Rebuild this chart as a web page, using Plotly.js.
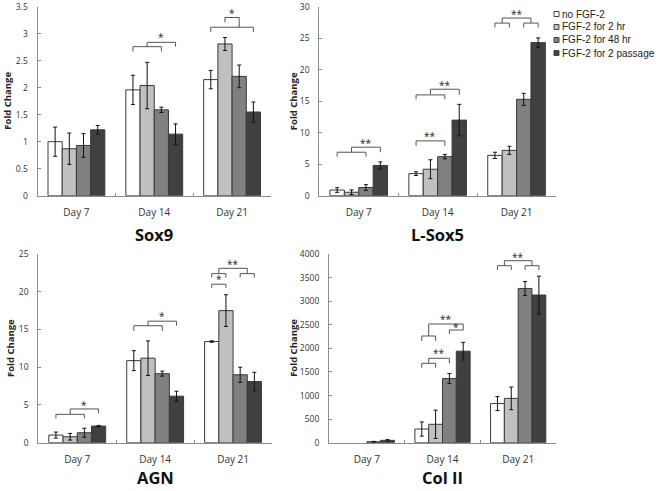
<!DOCTYPE html>
<html><head><meta charset="utf-8">
<script src="https://cdn.plot.ly/plotly-3.0.1.min.js"></script>
<style>html,body{margin:0;padding:0;background:#fff}#chart{width:661px;height:491px}</style>
</head><body><div id="chart"></div>
<script>
const days = ['Day 7', 'Day 14', 'Day 21'];
const seriesNames = ['no FGF-2', 'FGF-2 for 2 hr', 'FGF-2 for 48 hr', 'FGF-2 for 2 passage'];
const seriesColors = ['#ffffff', '#c0c0c0', '#808080', '#404040'];
const panelTitles = ['Sox9', 'L-Sox5', 'AGN', 'Col II'];

// mean values: one row per series, one column per day
const sox9Mean = [[1.0, 1.96, 2.15], [0.87, 2.04, 2.81], [0.93, 1.59, 2.21], [1.22, 1.14, 1.55]];
const sox9Err  = [[0.27, 0.27, 0.17], [0.29, 0.43, 0.12], [0.22, 0.05, 0.21], [0.08, 0.19, 0.185]];
const lsox5Mean = [[0.9, 3.5, 6.4], [0.55, 4.2, 7.2], [1.3, 6.2, 15.3], [4.8, 12.0, 24.3]];
const lsox5Err  = [[0.37, 0.3, 0.5], [0.37, 1.5, 0.64], [0.45, 0.35, 0.96], [0.56, 2.5, 0.74]];
const agnMean = [[1.01, 10.87, 13.4], [0.79, 11.2, 17.5], [1.32, 9.15, 9.0], [2.2, 6.16, 8.1]];
const agnErr  = [[0.4, 1.32, 0.1], [0.44, 2.29, 2.1], [0.6, 0.33, 1.0], [0.09, 0.66, 1.23]];
const col2Mean = [[null, 290, 830], [null, 390, 940], [20, 1360, 3270], [50, 1940, 3130]];
const col2Err  = [[0, 150, 148], [0, 300, 240], [8, 106, 148], [15, 187, 400]];

// significance brackets: [day index, from bar, to bar, top y, left leg end y, right leg end y]
const sox9Brackets = [[1, 0, 2, 2.76, 2.67, 2.67], [1, 1, 3, 2.84, 2.76, 2.76],
                      [2, 0, 3, 3.12, 3.03, 3.03], [2, 1, 2, 3.30, 3.21, 3.12]];
const sox9Stars = [[1, 2, 2.93, '*'], [2, 1.5, 3.38, '*']];
const lsox5Brackets = [[0, 0, 2, 6.9, 6.2, 6.2], [0, 1, 3, 7.7, 6.9, 6.9],
                       [1, 0, 2, 8.7, 7.9, 7.9],
                       [1, 0, 2, 16.0, 15.3, 15.3], [1, 1, 3, 16.9, 16.0, 16.0],
                       [2, 0, 1, 27.4, 26.7, 26.7], [2, 2, 3, 27.4, 26.7, 26.7], [2, 0.5, 2.5, 28.2, 27.4, 27.4]];
const lsox5Stars = [[0, 2, 8.3, '**'], [1, 1, 9.5, '**'], [1, 2, 17.5, '**'], [2, 1.5, 28.8, '**']];
const agnBrackets = [[0, 0, 2, 3.76, 3.23, 3.23], [0, 1, 3, 4.47, 3.76, 3.9],
                     [1, 0, 2, 15.5, 14.8, 14.8], [1, 1, 3, 16.1, 15.5, 15.5],
                     [2, 0, 1, 21.0, 20.5, 20.5],
                     [2, 0, 1, 22.4, 21.9, 21.9], [2, 2, 3, 22.4, 21.9, 21.9], [2, 0.5, 2.5, 23.1, 22.4, 22.4]];
const agnStars = [[0, 2, 5.0, '*'], [1, 2, 16.8, '*'], [2, 0.5, 21.7, '*'], [2, 1.5, 23.7, '**']];
const col2Brackets = [[1, 0, 1, 1683, 1590, 1590], [1, 0.5, 2, 1789, 1683, 1683],
                      [1, 0, 1, 2262, 2156, 2156], [1, 0.5, 3, 2516, 2262, 2389], [1, 2, 3, 2389, 2304, 2389],
                      [2, 0, 1, 3752, 3660, 3660], [2, 2, 3, 3752, 3660, 3660], [2, 0.5, 2.5, 3858, 3752, 3752]];
const col2Stars = [[1, 1.25, 1895, '**'], [1, 2.5, 2460, '*'], [1, 1.75, 2622, '**'], [2, 1.5, 3943, '**']];

const W = 661, H = 491;
const px = x => x / W, py = y => 1 - y / H;
const BARGAP = 0.27;
const slot = (1 - BARGAP) / 4;
const xpos = (c, b) => c + (b - 1.5) * slot;

const panels = [
  {mean: sox9Mean, err: sox9Err, br: sox9Brackets, st: sox9Stars, range: [0, 3.5], dtick: 0.5,
   x0: 37.5, x1: 271, y0: 6.7, y1: 195.7, titleY: 234, titleAnchor: 'middle', fcX: 7.5},
  {mean: lsox5Mean, err: lsox5Err, br: lsox5Brackets, st: lsox5Stars, range: [0, 30], dtick: 5,
   x0: 319.3, x1: 556, y0: 6.7, y1: 195.7, titleY: 234, titleAnchor: 'middle', fcX: 293},
  {mean: agnMean, err: agnErr, br: agnBrackets, st: agnStars, range: [0, 25], dtick: 5,
   x0: 38.3, x1: 272, y0: 254, y1: 442.7, titleY: 490.5, titleAnchor: 'bottom', fcX: 10.7},
  {mean: col2Mean, err: col2Err, br: col2Brackets, st: col2Stars, range: [0, 4000], dtick: 500,
   x0: 329, x1: 556, y0: 254, y1: 442.7, titleY: 490.5, titleAnchor: 'bottom', fcX: 293.5}
];

const FONT = 'Open Sans, DejaVu Sans, sans-serif';
const traces = [], shapes = [], annotations = [];
const layout = {
  width: W, height: H, margin: {l: 0, r: 0, t: 0, b: 0},
  paper_bgcolor: '#fff', plot_bgcolor: '#fff',
  barmode: 'group', bargap: BARGAP, bargroupgap: 0, showlegend: false,
  font: {family: FONT, color: '#333'}
};
const LINE = '#555';

panels.forEach((p, i) => {
  const n = i === 0 ? '' : String(i + 1);
  const xa = 'x' + n, ya = 'y' + n;
  seriesNames.forEach((name, s) => {
    traces.push({
      type: 'bar', name: name, x: days, y: p.mean[s], xaxis: xa, yaxis: ya,
      marker: {color: seriesColors[s], line: {color: '#3a3a3a', width: 1}},
      error_y: {type: 'data', array: p.err[s], visible: true, color: '#111', thickness: 1, width: 2},
      hoverinfo: 'skip'
    });
  });
  layout['xaxis' + n] = {
    domain: [px(p.x0), px(p.x1)], anchor: ya, type: 'category',
    tickson: 'boundaries', ticks: 'inside', ticklen: 3, tickcolor: '#8c8c8c',
    showline: true, linecolor: '#8c8c8c', linewidth: 1, showgrid: false, zeroline: false,
    tickfont: {family: FONT, size: 10, color: '#333'}, ticklabelstandoff: 7, fixedrange: true
  };
  layout['yaxis' + n] = {
    domain: [py(p.y1), py(p.y0)], anchor: xa, range: p.range, dtick: p.dtick,
    ticks: 'inside', ticklen: 3, tickcolor: '#8c8c8c',
    showline: true, linecolor: '#8c8c8c', linewidth: 1, showgrid: false, zeroline: false,
    tickfont: {family: FONT, size: 8.5, color: '#333'}, ticklabelstandoff: 7, fixedrange: true
  };
  p.br.forEach(b => {
    const xA = xpos(b[0], b[1]), xB = xpos(b[0], b[2]);
    const base = {type: 'line', xref: xa, yref: ya, line: {color: LINE, width: 1}};
    shapes.push(Object.assign({}, base, {x0: xA, x1: xA, y0: b[4], y1: b[3]}));
    shapes.push(Object.assign({}, base, {x0: xA, x1: xB, y0: b[3], y1: b[3]}));
    shapes.push(Object.assign({}, base, {x0: xB, x1: xB, y0: b[3], y1: b[5]}));
  });
  p.st.forEach(s => {
    annotations.push({xref: xa, yref: ya, x: xpos(s[0], s[1]), y: s[2], text: s[3], showarrow: false,
      yanchor: 'middle', font: {family: FONT, size: 10, color: '#222'}});
  });
  annotations.push({xref: 'paper', yref: 'paper', x: px((p.x0 + p.x1) / 2), y: py(p.titleY),
    text: '<b>' + panelTitles[i] + '</b>', showarrow: false, xanchor: 'center', yanchor: p.titleAnchor,
    font: {family: FONT, size: 16.5, color: '#111'}});
  annotations.push({xref: 'paper', yref: 'paper', x: px(p.fcX), y: py((p.y0 + p.y1) / 2),
    text: '<b>Fold Change</b>', textangle: -90, showarrow: false, xanchor: 'center', yanchor: 'middle',
    font: {family: FONT, size: 9.5, color: '#222'}});
});

// legend
const LEG_X = 554, LEG_Y0 = 14, LEG_DY = 13, SQ = 5;
seriesNames.forEach((name, s) => {
  const cy = LEG_Y0 + s * LEG_DY;
  shapes.push({type: 'rect', xref: 'paper', yref: 'paper',
    x0: px(LEG_X), x1: px(LEG_X + SQ), y0: py(cy + SQ / 2), y1: py(cy - SQ / 2),
    fillcolor: seriesColors[s], line: {color: '#444', width: 1}});
  annotations.push({xref: 'paper', yref: 'paper', x: px(LEG_X + SQ + 1), y: py(cy), text: name,
    showarrow: false, xanchor: 'left', yanchor: 'middle',
    font: {family: 'Liberation Sans, Arial, sans-serif', size: 10, color: '#222'}});
});

layout.shapes = shapes;
layout.annotations = annotations;
Plotly.newPlot('chart', traces, layout, {staticPlot: true, displayModeBar: false});
</script>
</body></html>
